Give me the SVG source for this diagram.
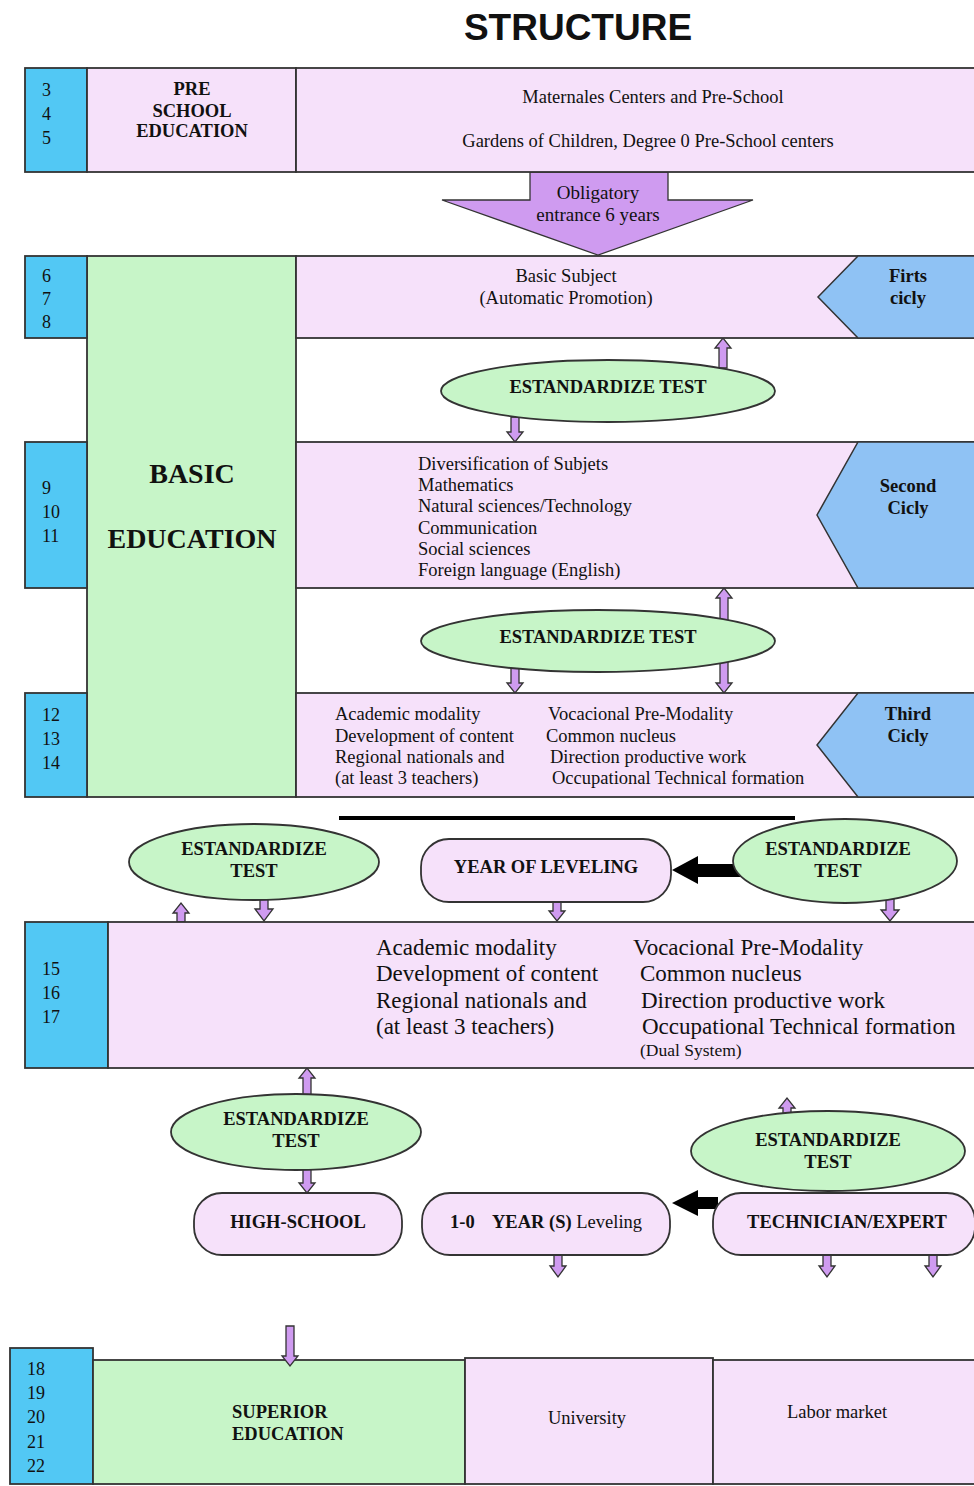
<svg xmlns="http://www.w3.org/2000/svg" width="974" height="1486" viewBox="0 0 974 1486" font-family="'Liberation Serif', 'DejaVu Serif', serif">
  <style>
    .age { fill: #52c8f4; stroke: #333; stroke-width: 1.8; }
    .pink { fill: #f6e1fa; stroke: #333; stroke-width: 1.8; }
    .green { fill: #c7f5c8; stroke: #333; stroke-width: 1.8; }
    .cycle { fill: #8fc2f4; stroke: #333; stroke-width: 1.5; }
    .test { fill: #c7f5c8; stroke: #333; stroke-width: 1.8; }
    .pill { fill: #f6e1fa; stroke: #333; stroke-width: 1.8; }
    .blk { fill: #cf9bf0; stroke: #333; stroke-width: 1.3; stroke-linejoin: miter; }
    .black { fill: #000; }
    text { fill: #111; }
    .num { font-size: 18px; }
    .reg { font-size: 18.5px; }
    .big { font-size: 23px; }
    .b { font-weight: bold; font-size: 18.5px; }
    .t { font-weight: bold; font-size: 18.5px; }
    .mid { text-anchor: middle; }
  </style>

  <!-- heading -->
  <text x="578" y="40" class="mid" font-family="'Liberation Sans', Arial, sans-serif" font-weight="bold" font-size="37">STRUCTURE</text>

  <!-- connectors (block arrows), drawn under the nodes -->
  <g id="connectors">
    <!-- obligatory entrance -->
    <path class="blk" d="M530,172 L668,172 L668,200 L753,200 L598,255 L442,200 L530,200 Z"/>
    <!-- first test -->
    <path class="blk" d="M719,368 L727,368 L727,348 L731,348 L723,338 L715,348 L719,348 Z"/>
    <path class="blk" d="M511,417 L519,417 L519,432 L523,432 L515,442 L507,432 L511,432 Z"/>
    <!-- second test -->
    <path class="blk" d="M724,588 L732,598 L728,598 L728,683 L732,683 L724,693 L716,683 L720,683 L720,598 L716,598 Z"/>
    <path class="blk" d="M511,665 L519,665 L519,683 L523,683 L515,693 L507,683 L511,683 Z"/>
    <!-- into 15-17 -->
    <path class="blk" d="M177,922 L185,922 L185,913 L189,913 L181,903 L173,913 L177,913 Z"/>
    <path class="blk" d="M260,896 L268,896 L268,909 L273,909 L264,921 L255,909 L260,909 Z"/>
    <path class="blk" d="M553,900 L561,900 L561,911 L565,911 L557,921 L549,911 L553,911 Z"/>
    <path class="blk" d="M886,898 L894,898 L894,910 L899,910 L890,921 L881,910 L886,910 Z"/>
    <!-- year of leveling arrow -->
    <path class="black" d="M742,864 L698,864 L698,856 L672,870 L698,884 L698,877 L742,877 Z"/>
    <!-- out of 15-17 -->
    <path class="blk" d="M303,1096 L311,1096 L311,1078 L315,1078 L307,1068 L299,1078 L303,1078 Z"/>
    <path class="blk" d="M303,1166 L311,1166 L311,1183 L315,1183 L307,1193 L299,1183 L303,1183 Z"/>
    <path class="blk" d="M783,1125 L791,1125 L791,1108 L795,1108 L787,1098 L779,1108 L783,1108 Z"/>
    <path class="black" d="M718,1197 L698,1197 L698,1190 L672,1203 L698,1216 L698,1209 L718,1209 Z"/>
    <path class="blk" d="M554,1255 L562,1255 L562,1266 L566,1266 L558,1277 L550,1266 L554,1266 Z"/>
    <path class="blk" d="M823,1255 L831,1255 L831,1266 L835,1266 L827,1277 L819,1266 L823,1266 Z"/>
    <path class="blk" d="M929,1255 L937,1255 L937,1266 L941,1266 L933,1277 L925,1266 L929,1266 Z"/>
    <!-- black rule over the test row -->
    <rect class="black" x="339" y="816" width="456" height="4"/>
  </g>

  <!-- pre-school -->
  <g id="preschool">
    <rect class="age" x="25" y="68" width="62" height="104"/>
    <text class="num" x="42" y="96">3</text>
    <text class="num" x="42" y="120">4</text>
    <text class="num" x="42" y="144">5</text>
    <rect class="pink" x="87" y="68" width="209" height="104"/>
    <text class="b mid" x="192" y="95">PRE</text>
    <text class="b mid" x="192" y="117">SCHOOL</text>
    <text class="b mid" x="192" y="137">EDUCATION</text>
    <rect class="pink" x="296" y="68" width="682" height="104"/>
    <text class="reg mid" x="653" y="103">Maternales Centers and Pre-School</text>
    <text class="reg mid" x="648" y="147">Gardens of Children, Degree 0 Pre-School centers</text>
  </g>

  <g id="obligatory">
    <text class="mid" x="598" y="199" font-size="19">Obligatory</text>
    <text class="mid" x="598" y="221" font-size="19">entrance 6  years</text>
  </g>

  <!-- basic education -->
  <g id="basic">
    <rect class="green" x="87" y="256" width="209" height="541"/>
    <text class="mid" x="192" y="483" font-weight="bold" font-size="28">BASIC</text>
    <text class="mid" x="192" y="548" font-weight="bold" font-size="28">EDUCATION</text>
  </g>

  <g id="cycle1">
    <rect class="age" x="25" y="256" width="62" height="82"/>
    <text class="num" x="42" y="282">6</text>
    <text class="num" x="42" y="305">7</text>
    <text class="num" x="42" y="328">8</text>
    <rect class="pink" x="296" y="256" width="682" height="82"/>
    <text class="reg mid" x="566" y="282">Basic Subject</text>
    <text class="reg mid" x="566" y="304">(Automatic Promotion)</text>
    <polygon class="cycle" points="858,256 978,256 978,338 858,338 818,297"/>
    <text class="b mid" x="908" y="282">Firts</text>
    <text class="b mid" x="908" y="304">cicly</text>
  </g>

  <g id="test1">
    <ellipse class="test" cx="608" cy="391" rx="167" ry="31"/>
    <text class="t mid" x="608" y="393">ESTANDARDIZE TEST</text>
  </g>

  <g id="cycle2">
    <rect class="age" x="25" y="442" width="62" height="146"/>
    <text class="num" x="42" y="494">9</text>
    <text class="num" x="42" y="518">10</text>
    <text class="num" x="42" y="542">11</text>
    <rect class="pink" x="296" y="442" width="682" height="146"/>
    <text class="reg" x="418" y="470">Diversification of Subjets</text>
    <text class="reg" x="418" y="491">Mathematics</text>
    <text class="reg" x="418" y="512">Natural sciences/Technology</text>
    <text class="reg" x="418" y="534">Communication</text>
    <text class="reg" x="418" y="555">Social sciences</text>
    <text class="reg" x="418" y="576">Foreign language (English)</text>
    <polygon class="cycle" points="858,442 978,442 978,588 858,588 817,515"/>
    <text class="b mid" x="908" y="492">Second</text>
    <text class="b mid" x="908" y="514">Cicly</text>
  </g>

  <g id="test2">
    <ellipse class="test" cx="598" cy="641" rx="177" ry="31"/>
    <text class="t mid" x="598" y="643">ESTANDARDIZE TEST</text>
  </g>

  <g id="cycle3">
    <rect class="age" x="25" y="693" width="62" height="104"/>
    <text class="num" x="42" y="721">12</text>
    <text class="num" x="42" y="745">13</text>
    <text class="num" x="42" y="769">14</text>
    <rect class="pink" x="296" y="693" width="682" height="104"/>
    <text class="reg" x="335" y="720">Academic modality</text>
    <text class="reg" x="335" y="742">Development of content</text>
    <text class="reg" x="335" y="763">Regional nationals and</text>
    <text class="reg" x="335" y="784">(at least 3 teachers)</text>
    <text class="reg" x="548" y="720">Vocacional Pre-Modality</text>
    <text class="reg" x="546" y="742">Common nucleus</text>
    <text class="reg" x="550" y="763">Direction productive work</text>
    <text class="reg" x="552" y="784">Occupational Technical formation</text>
    <polygon class="cycle" points="858,693 978,693 978,797 858,797 817,745"/>
    <text class="b mid" x="908" y="720">Third</text>
    <text class="b mid" x="908" y="742">Cicly</text>
  </g>

  <g id="test3">
    <ellipse class="test" cx="254" cy="862" rx="125" ry="38"/>
    <text class="b mid" x="254" y="855">ESTANDARDIZE</text>
    <text class="b mid" x="254" y="877">TEST</text>
  </g>

  <g id="leveling">
    <rect class="pill" x="421" y="839" width="250" height="63" rx="28"/>
    <text class="b mid" x="546" y="873">YEAR OF LEVELING</text>
  </g>

  <g id="test4">
    <ellipse class="test" cx="845" cy="861" rx="112" ry="42"/>
    <text class="b mid" x="838" y="855">ESTANDARDIZE</text>
    <text class="b mid" x="838" y="877">TEST</text>
  </g>

  <g id="secondary">
    <rect class="age" x="25" y="922" width="83" height="146"/>
    <text class="num" x="42" y="975">15</text>
    <text class="num" x="42" y="999">16</text>
    <text class="num" x="42" y="1023">17</text>
    <rect class="pink" x="108" y="922" width="870" height="146"/>
    <text class="big" x="376" y="955">Academic modality</text>
    <text class="big" x="376" y="981">Development of content</text>
    <text class="big" x="376" y="1008">Regional nationals and</text>
    <text class="big" x="376" y="1034">(at least 3 teachers)</text>
    <text class="big" x="633" y="955">Vocacional Pre-Modality</text>
    <text class="big" x="640" y="981">Common nucleus</text>
    <text class="big" x="641" y="1008">Direction productive work</text>
    <text class="big" x="642" y="1034">Occupational Technical formation</text>
    <text x="640" y="1056" font-size="17.5">(Dual System)</text>
  </g>

  <g id="test5">
    <ellipse class="test" cx="296" cy="1132" rx="125" ry="38"/>
    <text class="b mid" x="296" y="1125">ESTANDARDIZE</text>
    <text class="b mid" x="296" y="1147">TEST</text>
  </g>

  <g id="test6">
    <ellipse class="test" cx="828" cy="1151" rx="137" ry="40"/>
    <text class="b mid" x="828" y="1146">ESTANDARDIZE</text>
    <text class="b mid" x="828" y="1168">TEST</text>
  </g>

  <g id="highschool">
    <rect class="pill" x="194" y="1193" width="208" height="62" rx="28"/>
    <text class="b mid" x="298" y="1228">HIGH-SCHOOL</text>
  </g>

  <g id="years">
    <rect class="pill" x="422" y="1193" width="248" height="62" rx="28"/>
    <text x="450" y="1228" font-size="18.5"><tspan font-weight="bold">1-0</tspan><tspan x="492" font-weight="bold">YEAR (S)</tspan> Leveling</text>
  </g>

  <g id="technician">
    <rect class="pill" x="713" y="1193" width="262" height="62" rx="28"/>
    <text class="b mid" x="847" y="1228">TECHNICIAN/EXPERT</text>
  </g>

  <g id="superior">
    <rect class="age" x="10" y="1348" width="83" height="136"/>
    <text class="num" x="27" y="1375">18</text>
    <text class="num" x="27" y="1399">19</text>
    <text class="num" x="27" y="1423">20</text>
    <text class="num" x="27" y="1448">21</text>
    <text class="num" x="27" y="1472">22</text>
    <rect class="green" x="93" y="1360" width="372" height="124"/>
    <text class="b" x="232" y="1418">SUPERIOR</text>
    <text class="b" x="232" y="1440">EDUCATION</text>
    <path class="blk" d="M286,1326 L294,1326 L294,1356 L298,1356 L290,1366 L282,1356 L286,1356 Z"/>
  </g>

  <g id="university">
    <rect class="pink" x="465" y="1358" width="248" height="126"/>
    <text class="reg mid" x="587" y="1424">University</text>
  </g>

  <g id="labor">
    <rect class="pink" x="713" y="1360" width="265" height="124"/>
    <text class="reg mid" x="837" y="1418">Labor market</text>
  </g>
</svg>
